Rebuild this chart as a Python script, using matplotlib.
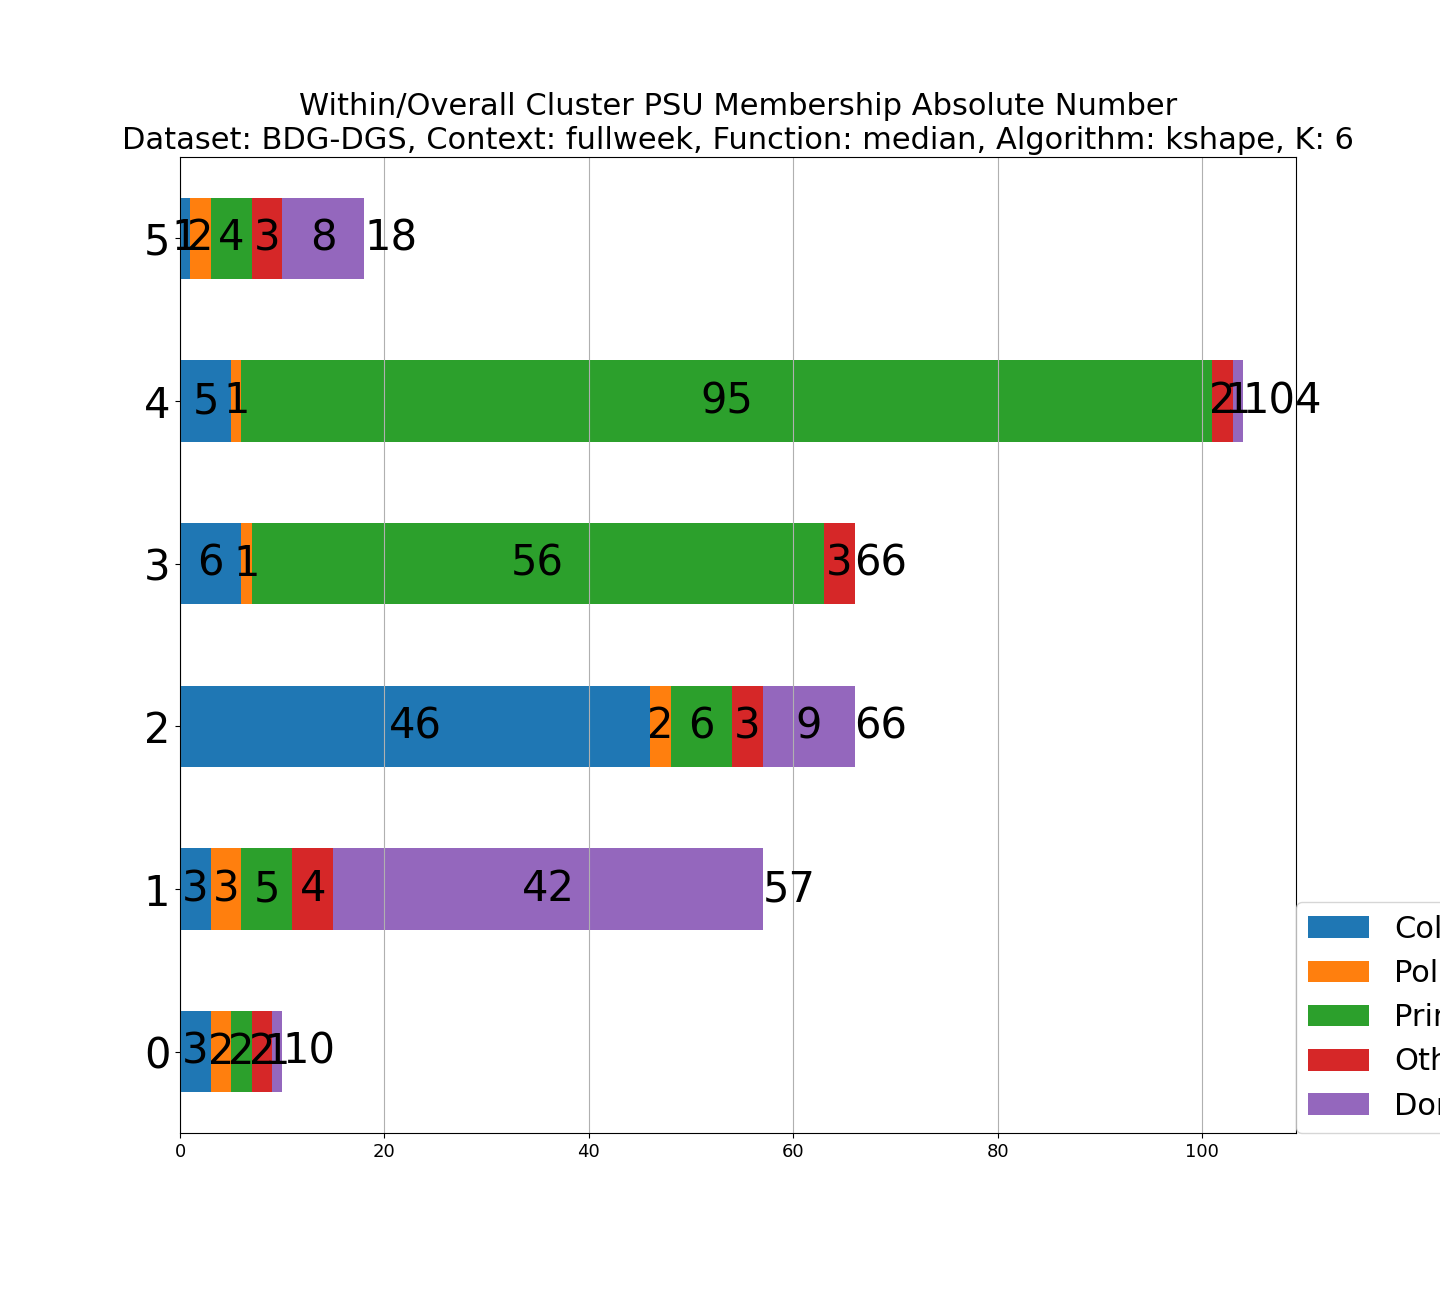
import matplotlib
matplotlib.use("Agg")
import matplotlib.pyplot as plt
import numpy as np

# cluster ids (y axis)
clusters = [0, 1, 2, 3, 4, 5]

# PSU type counts per cluster
college = [3, 3, 46, 6, 5, 1]
police = [2, 3, 2, 1, 1, 2]
primary = [2, 5, 6, 56, 95, 4]
others = [2, 4, 3, 3, 2, 3]
dormitory = [1, 42, 9, 0, 1, 8]

series_names = ["College", "Police", "Primary School", "Others", "Dormitory"]
series_values = [college, police, primary, others, dormitory]
colors = ["#1f77b4", "#ff7f0e", "#2ca02c", "#d62728", "#9467bd"]

fig = plt.figure(figsize=(14.4, 12.96), dpi=100)
ax = fig.add_axes([0.125, 1 - 1133 / 1296, 0.775, (1133 - 157) / 1296])

y = np.arange(len(clusters))
left = np.zeros(len(clusters))
for name, vals, col in zip(series_names, series_values, colors):
    vals = np.array(vals, dtype=float)
    ax.barh(y, vals, height=0.5, left=left, color=col, label=name)
    for yi, l, v in zip(y, left, vals):
        if v > 0:
            ax.text(l + v / 2, yi, str(int(v)), ha="center", va="center", fontsize=30)
    left = left + vals

# totals at the end of each bar
for yi, tot in zip(y, left):
    ax.text(tot, yi, str(int(tot)), ha="left", va="center", fontsize=30)

ax.set_yticks(y)
ax.set_yticklabels([str(c) for c in clusters], fontsize=30)
ax.tick_params(axis="x", labelsize=13)
ax.set_ylim(-0.5, len(clusters) - 0.5)
ax.set_xlim(0, left.max() * 1.05)
ax.xaxis.grid(True, color="#b0b0b0", linewidth=0.8)

ax.set_title("Within/Overall Cluster PSU Membership Absolute Number\n"
             "Dataset: BDG-DGS, Context: fullweek, Function: median, Algorithm: kshape, K: 6",
             fontsize=22)

ax.legend(loc="lower left", bbox_to_anchor=(1, 0), borderaxespad=0, fontsize=22)

fig.savefig("out.png", dpi=100)
